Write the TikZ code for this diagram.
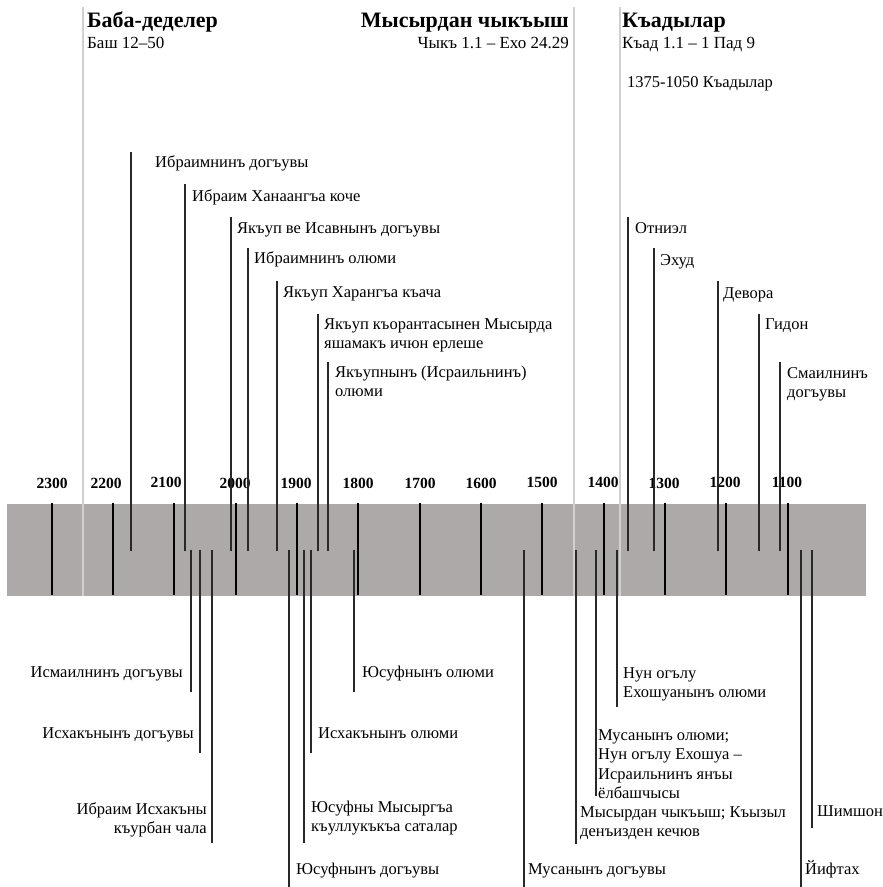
\documentclass[tikz,border=0pt]{standalone}
\usepackage{fontspec}
\setmainfont{Liberation Serif}
\definecolor{bandgray}{RGB}{173,169,168}
\definecolor{sepgray}{RGB}{208,208,208}
\definecolor{conngray}{RGB}{40,40,40}
\newcommand\lblL[1]{\begin{tabular}[t]{@{}l@{}}#1\end{tabular}}
\newcommand\lblR[1]{\begin{tabular}[t]{@{}r@{}}#1\end{tabular}}
\begin{document}
\begin{tikzpicture}[x=1pt,y=-1pt,
  lab/.style={inner sep=0pt, anchor=base west, font=\fontsize{16.5}{19.5}\selectfont},
  labr/.style={inner sep=0pt, anchor=base east, font=\fontsize{16.5}{19.5}\selectfont},
  yrlab/.style={inner sep=0pt, anchor=base, font=\fontsize{15.5}{18}\selectfont\bfseries},
  hd/.style={inner sep=0pt, font=\fontsize{22}{26}\selectfont\bfseries},
  subhd/.style={inner sep=0pt, font=\fontsize{17}{20}\selectfont},
  tickline/.style={line width=2.6pt, black},
  conn/.style={line width=1.1pt, conngray},
  sepline/.style={line width=1.6pt, sepgray}]
\useasboundingbox (0,0) rectangle (883,887);
% band
\fill[bandgray] (7,504) rectangle (866,596);
% ticks
\foreach \yy/\xx in {2300/52,2200/113,2100/174,2000/236,1900/297,1800/358,1700/420,1600/481,1500/542,1400/604,1300/665,1200/726,1100/788}{
  \coordinate (tt\yy) at (\xx,503);
  \coordinate (tb\yy) at (\xx,595);
  \draw[tickline] (tt\yy) -- (tb\yy);
}
% year labels
\foreach \yy/\xx/\bb in {2300/52/488,2200/106/488,2100/166/487,2000/235/488,1900/296/488,1800/358/488,1700/420/488,1600/481/488,1500/542/487,1400/603/487,1300/664/488,1200/725/487,1100/787/487}{
  \node[yrlab] (y\yy) at (\xx,\bb) {\yy};
}
% separators
\foreach \i/\xx in {1/83,2/574,3/620}{
  \coordinate (st\i) at (\xx,7);
  \coordinate (sb\i) at (\xx,596);
  \draw[sepline] (st\i) -- (sb\i);
}
% headers
\node[hd, anchor=base west] (h1) at (87,27.5) {Баба-деделер};
\node[subhd, anchor=base west] (h1s) at (87,48.5) {Баш 12–50};
\node[hd, anchor=base east] (h2) at (569,27.5) {Мысырдан чыкъыш};
\node[subhd, anchor=base east] (h2s) at (569,48.5) {Чыкъ 1.1 – Ехо 24.29};
\node[hd, anchor=base west] (h3) at (622,27.5) {Къадылар};
\node[subhd, anchor=base west] (h3s) at (622,48.5) {Къад 1.1 – 1 Пад 9};
\node[lab] (h3r) at (627,87) {1375-1050 Къадылар};
% top events
\foreach \n/\xx/\yt/\tx/\tb/\txt in {
  a/131/152/155/167/{Ибраимнинъ догъувы},
  b/185/184/192/201/{Ибраим Ханаангъа коче},
  c/231/217/237/233/{Якъуп ве Исавнынъ догъувы},
  d/248/248/254/263/{Ибраимнинъ олюми},
  e/277/281/283/297/{Якъуп Харангъа къача},
  f/318/314/324/329/{\lblL{Якъуп къорантасынен Мысырда\\яшамакъ ичюн ерлеше}},
  g/328/362/335/377/{\lblL{Якъупнынъ (Исраильнинъ)\\олюми}},
  h/628/217/635/233/{Отниэл},
  i/654/248/660/265/{Эхуд},
  j/718/281/723/298/{Девора},
  k/759/314/765/329/{Гидон},
  l/780/362/787/378/{\lblL{Смаилнинъ\\догъувы}}}{
  \node[lab] (n\n) at (\tx,\tb) {\txt};
  \coordinate (c\n t) at (\xx,\yt);
  \coordinate (c\n b) at (\xx,551);
  \draw[conn] (c\n t) -- (c\n b);
}
% bottom events, labels left of line
\foreach \n/\xx/\yb/\tx/\tb/\txt in {
  m/191/692/183/677/{Исмаилнинъ догъувы},
  o/200/753/194/738/{Исхакънынъ догъувы},
  p/212/843/207/814/{\lblR{Ибраим Исхакъны\\къурбан чала}}}{
  \node[labr] (n\n) at (\tx,\tb) {\txt};
  \coordinate (c\n t) at (\xx,550);
  \coordinate (c\n b) at (\xx,\yb);
  \draw[conn] (c\n t) -- (c\n b);
}
% bottom events, labels right of line
\foreach \n/\xx/\yb/\tx/\tb/\txt in {
  q/289/887/296/874/{Юсуфнынъ догъувы},
  r/304/843/311/812/{\lblL{Юсуфны Мысыргъа\\къуллукъкъа саталар}},
  s/311/753/318/738/{Исхакънынъ олюми},
  t/354/692/362/677/{Юсуфнынъ олюми},
  u/524/887/528/874/{Мусанынъ догъувы},
  v/576/844/580/817/{\lblL{Мысырдан чыкъыш; Къызыл\\денъизден кечюв}},
  w/596/796/598/740/{\lblL{Мусанынъ олюми;\\Нун огълу Ехошуа –\\Исраильнинъ янъы\\ёлбашчысы}},
  x/617/707/623/678/{\lblL{Нун огълу\\Ехошуанынъ олюми}},
  y/801/887/805/874/{Йифтах},
  z/812/828/817/816/{Шимшон}}{
  \node[lab] (n\n) at (\tx,\tb) {\txt};
  \coordinate (c\n t) at (\xx,550);
  \coordinate (c\n b) at (\xx,\yb);
  \draw[conn] (c\n t) -- (c\n b);
}
\end{tikzpicture}
\end{document}
